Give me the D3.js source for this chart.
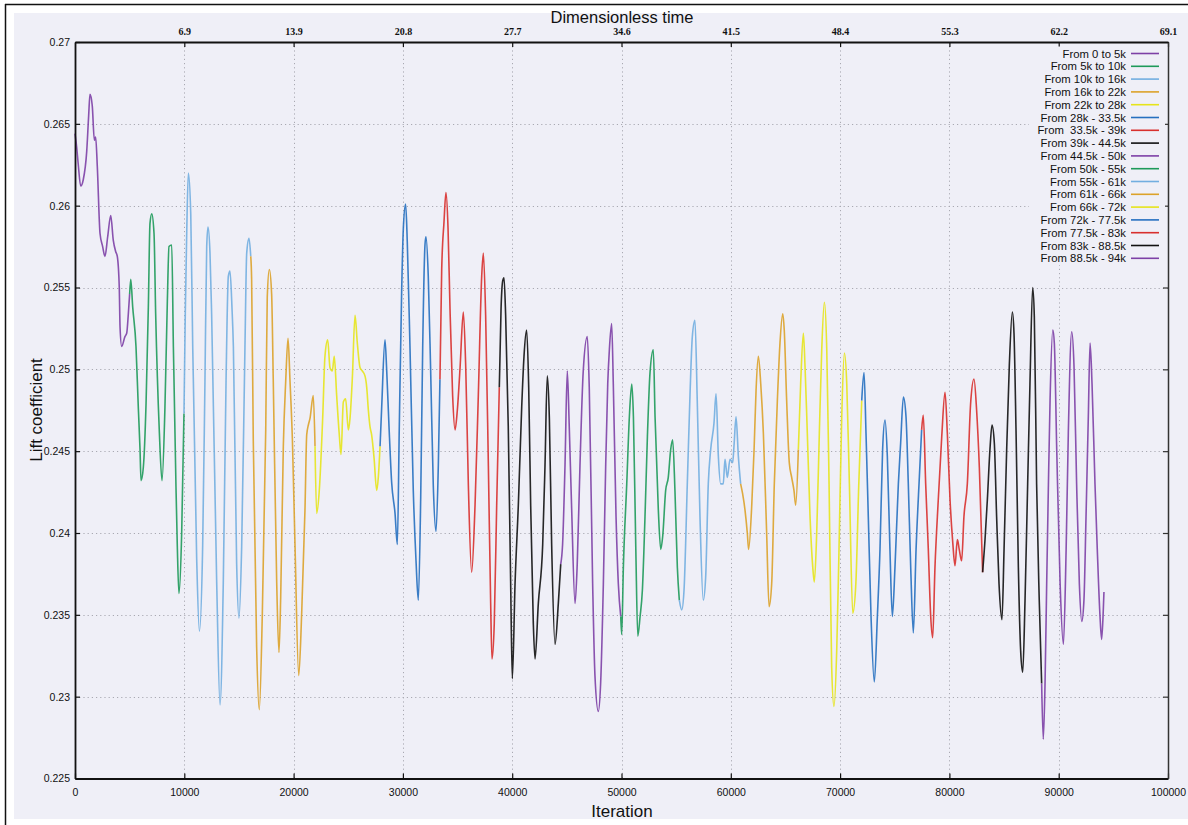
<!DOCTYPE html>
<html>
<head>
<meta charset="utf-8">
<script src="https://cdn.jsdelivr.net/npm/d3@7/dist/d3.min.js"></script>
<style>
  html, body { margin: 0; padding: 0; background: #fff; }
  svg { display: block; }
  text { font-family: "Liberation Sans", Arial, Helvetica, sans-serif; }
</style>
</head>
<body>
<svg id="chart" width="1188" height="825"></svg>
<script>
// Lift coefficient history, one run split into restart windows
const segLabels = [
  "From 0 to 5k", "From 5k to 10k", "From 10k to 16k", "From 16k to 22k",
  "From 22k to 28k", "From 28k - 33.5k", "From  33.5k - 39k", "From 39k - 44.5k",
  "From 44.5k - 50k", "From 50k - 55k", "From 55k - 61k", "From 61k - 66k",
  "From 66k - 72k", "From 72k - 77.5k", "From 77.5k - 83k", "From 83k - 88.5k",
  "From 88.5k - 94k"
];
const segColors = [
  "#7d40a6", "#1e9a5a", "#72aee0", "#dca22a", "#e6e41c", "#2670c0", "#d8302e", "#111111",
  "#7d40a6", "#1e9a5a", "#72aee0", "#dca22a", "#e6e41c", "#2670c0", "#d8302e", "#111111",
  "#7d40a6"
];

// [iteration, lift coefficient]
const seg01 = [[0,0.2644],[150,0.2636],[300,0.2625],[520,0.2612],[760,0.2616],[1070,0.2633],[1250,0.2655],[1370,0.2668],[1580,0.2661],[1770,0.2640],[1890,0.2642],[2040,0.2624],[2290,0.2583],[2530,0.2575],[2740,0.2569],[2990,0.2581],[3270,0.2594],[3500,0.2579],[3720,0.2572],[3870,0.2569],[4050,0.2550],[4120,0.2526],[4270,0.2514],[4570,0.2520],[4730,0.2522],[4880,0.2534],[5000,0.2546]];
const seg02 = [[5100,0.2555],[5280,0.2538],[5580,0.2514],[5790,0.2477],[5950,0.2451],[6040,0.2432],[6250,0.2440],[6500,0.2479],[6710,0.2538],[6860,0.2589],[7020,0.2595],[7230,0.2583],[7380,0.2534],[7710,0.2463],[7960,0.2432],[8230,0.2477],[8450,0.2542],[8600,0.2575],[8850,0.2576],[9000,0.2514],[9240,0.2428],[9360,0.2392],[9510,0.2363],[9760,0.2400],[9970,0.2473]];
const seg03 = [[10090,0.2534],[10220,0.2583],[10370,0.2620],[10590,0.2595],[10770,0.2514],[11130,0.2385],[11380,0.2340],[11680,0.2392],[11890,0.2493],[12050,0.2575],[12170,0.2587],[12350,0.2571],[12500,0.2534],[12960,0.2371],[13270,0.2295],[13570,0.2371],[13820,0.2493],[14030,0.2557],[14180,0.2560],[14360,0.2538],[14490,0.2514],[14790,0.2381],[15000,0.2348],[15250,0.2392],[15550,0.2514],[15710,0.2571],[15920,0.2580],[16080,0.2569]];
const seg04 = [[16160,0.2555],[16310,0.2457],[16620,0.2330],[16860,0.2292],[17140,0.2351],[17450,0.2463],[17590,0.2544],[17780,0.2561],[17990,0.2546],[18140,0.2493],[18450,0.2371],[18660,0.2327],[18820,0.2361],[19060,0.2453],[19280,0.2493],[19490,0.2519],[19670,0.2493],[19890,0.2457],[20130,0.2392],[20470,0.2313],[20740,0.2351],[21040,0.2414],[21200,0.2460],[21350,0.2466],[21500,0.2470],[21800,0.2484],[21960,0.2453]];
const seg05 = [[22110,0.2412],[22350,0.2426],[22660,0.2470],[22870,0.2508],[23120,0.2518],[23330,0.2501],[23540,0.2499],[23720,0.2508],[23940,0.2484],[24180,0.2460],[24340,0.2448],[24550,0.2480],[24760,0.2482],[25010,0.2463],[25160,0.2470],[25370,0.2494],[25620,0.2533],[25830,0.2516],[26080,0.2501],[26290,0.2499],[26530,0.2496],[26690,0.2489],[26840,0.2475],[26990,0.2465],[27140,0.2460],[27360,0.2446],[27600,0.2426],[27750,0.2434],[27910,0.2453]];
const seg06 = [[28060,0.2477],[28360,0.2518],[28520,0.2499],[28730,0.2465],[28970,0.2431],[29280,0.2412],[29490,0.2393],[29670,0.2465],[29890,0.2549],[30040,0.2586],[30250,0.2601],[30400,0.2578],[30650,0.2513],[30950,0.2426],[31200,0.2383],[31410,0.2359],[31630,0.2422],[31810,0.2513],[32020,0.2576],[32110,0.2581],[32320,0.2557],[32540,0.2499],[32780,0.2429],[33030,0.2401],[33240,0.2441],[33390,0.2494]];
const seg07 = [[33550,0.2561],[33760,0.2590],[33940,0.2608],[34130,0.2586],[34310,0.2537],[34550,0.2484],[34770,0.2463],[34980,0.2475],[35230,0.2501],[35530,0.2535],[35750,0.2501],[35990,0.2429],[36290,0.2376],[36600,0.2417],[36900,0.2484],[37210,0.2557],[37360,0.2571],[37570,0.2533],[37820,0.2441],[38030,0.2357],[38150,0.2323],[38360,0.2345],[38580,0.2417],[38820,0.2489]];
const seg08 = [[38980,0.2537],[39130,0.2554],[39250,0.2556],[39400,0.2533],[39640,0.2465],[39860,0.2369],[40010,0.2311],[40260,0.2369],[40560,0.2417],[40870,0.2477],[41080,0.2508],[41320,0.2524],[41510,0.2489],[41690,0.2417],[41930,0.2345],[42090,0.2323],[42390,0.2357],[42790,0.2393],[43000,0.2441],[43210,0.2496],[43400,0.2470],[43610,0.2393],[43920,0.2332],[44220,0.2357],[44440,0.2381]];
const seg09 = [[44610,0.2393],[44830,0.2441],[45040,0.2499],[45220,0.2465],[45430,0.2417],[45750,0.2357],[45950,0.2381],[46200,0.2441],[46500,0.2499],[46870,0.2520],[47050,0.2489],[47360,0.2369],[47570,0.2313],[47880,0.2291],[48090,0.2308],[48340,0.2369],[48550,0.2440],[48740,0.2491],[48890,0.2512],[49100,0.2528],[49250,0.2491],[49500,0.2410],[49710,0.2369],[49930,0.2349]];
const seg10 = [[50020,0.2338],[50170,0.2379],[50480,0.2430],[50720,0.2471],[50940,0.2491],[51090,0.2471],[51310,0.2390],[51490,0.2337],[51700,0.2349],[51910,0.2365],[52150,0.2410],[52370,0.2459],[52610,0.2498],[52910,0.2512],[53070,0.2471],[53370,0.2414],[53590,0.2390],[53770,0.2398],[54040,0.2426],[54280,0.2434],[54500,0.2451],[54680,0.2457],[54890,0.2426],[55110,0.2379],[55290,0.2359]];
const seg11 = [[55510,0.2353],[55720,0.2365],[56020,0.2430],[56270,0.2485],[56480,0.2520],[56720,0.2530],[56930,0.2481],[57180,0.2410],[57480,0.2359],[57700,0.2373],[57940,0.2430],[58160,0.2451],[58460,0.2467],[58650,0.2485],[58860,0.2447],[59070,0.2430],[59310,0.2430],[59470,0.2445],[59680,0.2434],[59930,0.2445],[60170,0.2443],[60290,0.2453],[60480,0.2471],[60690,0.2447],[60900,0.2430]];
const seg12 = [[61080,0.2424],[61300,0.2414],[61510,0.2400],[61630,0.2390],[61910,0.2416],[62130,0.2451],[62310,0.2487],[62520,0.2508],[62740,0.2491],[62980,0.2461],[63280,0.2400],[63500,0.2355],[63740,0.2369],[63980,0.2430],[64260,0.2481],[64500,0.2516],[64750,0.2534],[64890,0.2524],[65110,0.2481],[65350,0.2443],[65570,0.2434],[65780,0.2426],[65940,0.2417],[66180,0.2451]];
const seg13 = [[66390,0.2491],[66640,0.2522],[66790,0.2502],[67000,0.2461],[67250,0.2410],[67500,0.2379],[67640,0.2370],[67860,0.2400],[68100,0.2461],[68320,0.2512],[68560,0.2541],[68780,0.2512],[68990,0.2430],[69230,0.2318],[69440,0.2294],[69690,0.2328],[69900,0.2390],[70150,0.2471],[70390,0.2510],[70610,0.2491],[70850,0.2430],[71160,0.2351],[71440,0.2369],[71710,0.2430],[71980,0.2481]];
const seg14 = [[72190,0.2498],[72370,0.2461],[72580,0.2410],[72830,0.2349],[73130,0.2309],[73410,0.2349],[73650,0.2390],[73890,0.2451],[74110,0.2469],[74320,0.2447],[74560,0.2390],[74780,0.2349],[75020,0.2379],[75330,0.2430],[75540,0.2455],[75790,0.2483],[76030,0.2471],[76240,0.2430],[76460,0.2379],[76700,0.2339],[76950,0.2390],[77250,0.2434],[77460,0.2463]];
const seg15 = [[77610,0.2472],[77830,0.2430],[78070,0.2390],[78290,0.2349],[78470,0.2336],[78680,0.2379],[78980,0.2420],[79300,0.2459],[79600,0.2486],[79810,0.2461],[80060,0.2420],[80310,0.2394],[80510,0.2380],[80730,0.2396],[80900,0.2390],[81120,0.2383],[81330,0.2410],[81640,0.2430],[81940,0.2479],[82250,0.2494],[82490,0.2475],[82740,0.2440],[83040,0.2376]];
const seg16 = [[83260,0.2396],[83470,0.2420],[83710,0.2451],[83900,0.2466],[84110,0.2455],[84320,0.2410],[84540,0.2369],[84810,0.2347],[85000,0.2390],[85240,0.2451],[85480,0.2502],[85760,0.2535],[85910,0.2522],[86100,0.2461],[86310,0.2379],[86520,0.2328],[86710,0.2315],[86920,0.2359],[87160,0.2430],[87370,0.2491],[87620,0.2550],[87770,0.2532],[87980,0.2430],[88220,0.2359],[88440,0.2308]];
const seg17 = [[88590,0.2274],[88750,0.2308],[88900,0.2369],[89060,0.2430],[89210,0.2481],[89460,0.2524],[89600,0.2516],[89820,0.2451],[90130,0.2369],[90430,0.2332],[90680,0.2390],[90880,0.2461],[91190,0.2523],[91400,0.2502],[91640,0.2430],[91890,0.2369],[92110,0.2346],[92310,0.2359],[92500,0.2410],[92710,0.2471],[92870,0.2516],[93050,0.2491],[93320,0.2430],[93530,0.2390],[93780,0.2349],[93930,0.2335],[94080,0.2353],[94140,0.2364]];

const segments = [seg01, seg02, seg03, seg04, seg05, seg06, seg07, seg08, seg09,
                  seg10, seg11, seg12, seg13, seg14, seg15, seg16, seg17];

// Axis ticks
const xTicks = [0, 10000, 20000, 30000, 40000, 50000, 60000, 70000, 80000, 90000, 100000];
const yTicks = [0.225, 0.23, 0.235, 0.24, 0.245, 0.25, 0.255, 0.26, 0.265, 0.27];
const topTickIters = [10000, 20000, 30000, 40000, 50000, 60000, 70000, 80000, 90000, 100000];
const topTickLabels = ["6.9", "13.9", "20.8", "27.7", "34.6", "41.5", "48.4", "55.3", "62.2", "69.1"];

const svg = d3.select("#chart");
const W = 1188, H = 825;
const bg = "#efeff7";

// window frame
svg.append("rect").attr("x", 0).attr("y", 0).attr("width", W).attr("height", H).attr("fill", "#fff");
svg.append("rect").attr("x", 14).attr("y", 13).attr("width", W - 14).attr("height", 806).attr("fill", bg);
svg.append("line").attr("x1", 5).attr("x2", W).attr("y1", 4.5).attr("y2", 4.5).attr("stroke", "#111").attr("stroke-width", 1.5);
svg.append("line").attr("x1", 5.5).attr("x2", 5.5).attr("y1", 4).attr("y2", H).attr("stroke", "#111").attr("stroke-width", 1.5);

const plot = { left: 75, right: 1168, top: 42, bottom: 778.5 };
const x = d3.scaleLinear().domain([0, 100000]).range([plot.left, plot.right]);
const y = d3.scaleLinear().domain([0.225, 0.27]).range([plot.bottom, plot.top]);

// dotted grid
const grid = svg.append("g").attr("stroke", "#a9a9b2").attr("stroke-width", 1).attr("stroke-dasharray", "1.2,3");
grid.selectAll("line.v").data(xTicks.filter(d => d > 0 && d < 100000)).join("line")
  .attr("class", "v").attr("x1", d => Math.round(x(d)) + 0.5).attr("x2", d => Math.round(x(d)) + 0.5)
  .attr("y1", plot.top).attr("y2", plot.bottom);
grid.selectAll("line.h").data(yTicks.filter(d => d > 0.225 && d < 0.27)).join("line")
  .attr("class", "h").attr("y1", d => Math.round(y(d)) + 0.5).attr("y2", d => Math.round(y(d)) + 0.5)
  .attr("x1", plot.left).attr("x2", plot.right);

// lift coefficient curves, each window joined to the end of the previous one
const line = d3.line().x(d => x(d[0])).y(d => y(d[1])).curve(d3.curveMonotoneX);
const curves = svg.append("g").attr("fill", "none").attr("stroke-width", 1.6).attr("stroke-linejoin", "round");
segments.forEach((seg, i) => {
  const pts = i > 0 ? [segments[i - 1][segments[i - 1].length - 1]].concat(seg) : seg;
  curves.append("path").attr("d", line(pts)).attr("stroke", segColors[i]).attr("stroke-opacity", 0.9);
});

// axes
const fmtY = v => String(+v.toFixed(3));
const axisStyle = (g, width, color) => {
  g.select(".domain").attr("stroke", color).attr("stroke-width", width);
  g.selectAll(".tick line").attr("stroke", color).attr("stroke-width", 1.2);
  g.selectAll(".tick text").attr("fill", "#111").attr("font-family", null);
};

const gLeft = svg.append("g").attr("transform", `translate(${plot.left},0)`)
  .call(d3.axisLeft(y).tickValues(yTicks).tickFormat(fmtY).tickSize(-5).tickSizeOuter(0).tickPadding(5));
axisStyle(gLeft, 1.8, "#111");
gLeft.selectAll(".tick text").attr("font-size", 10.5);

const gBottom = svg.append("g").attr("transform", `translate(0,${plot.bottom})`)
  .call(d3.axisBottom(x).tickValues(xTicks).tickFormat(d3.format("d")).tickSize(-5).tickSizeOuter(0).tickPadding(10));
axisStyle(gBottom, 1.8, "#111");
gBottom.selectAll(".tick text").attr("font-size", 10.5);

const gTop = svg.append("g").attr("transform", `translate(0,${plot.top})`)
  .call(d3.axisTop(x).tickValues(topTickIters).tickFormat((d, i) => topTickLabels[i]).tickSize(-5).tickSizeOuter(0).tickPadding(7));
axisStyle(gTop, 1.8, "#111");
gTop.selectAll(".tick text").attr("font-size", 10).attr("font-weight", "bold")
  .style("font-family", '"Liberation Serif", "Times New Roman", serif');

const gRight = svg.append("g").attr("transform", `translate(${plot.right},0)`)
  .call(d3.axisRight(y).tickValues(yTicks.filter(d => d > 0.225 && d < 0.27)).tickFormat("").tickSize(-5).tickSizeOuter(0));
axisStyle(gRight, 1.5, "#333");

// axis titles
svg.append("text").attr("x", 622).attr("y", 16.5).attr("text-anchor", "middle").attr("dominant-baseline", "central")
  .attr("font-size", 16.5).attr("fill", "#111").text("Dimensionless time");
svg.append("text").attr("x", 622).attr("y", 811).attr("text-anchor", "middle").attr("dominant-baseline", "central")
  .attr("font-size", 17).attr("fill", "#111").text("Iteration");
svg.append("text").attr("transform", "translate(36,410) rotate(-90)").attr("text-anchor", "middle")
  .attr("dominant-baseline", "central").attr("font-size", 17).attr("fill", "#111").text("Lift coefficient");

// legend
const legend = svg.append("g");
const legTop = 53.5, legStep = 12.8;
legend.append("rect").attr("x", 1029).attr("y", legTop - 7).attr("width", 136)
  .attr("height", legStep * segLabels.length + 1).attr("fill", bg);
segLabels.forEach((lab, i) => {
  const yy = legTop + i * legStep;
  legend.append("text").attr("x", 1126).attr("y", yy).attr("text-anchor", "end")
    .attr("dominant-baseline", "central").attr("font-size", 11.3).attr("fill", "#111")
    .style("white-space", "pre").text(lab);
  legend.append("line").attr("x1", 1131).attr("x2", 1159).attr("y1", yy).attr("y2", yy)
    .attr("stroke", segColors[i]).attr("stroke-width", 1.6);
});
</script>
</body>
</html>
